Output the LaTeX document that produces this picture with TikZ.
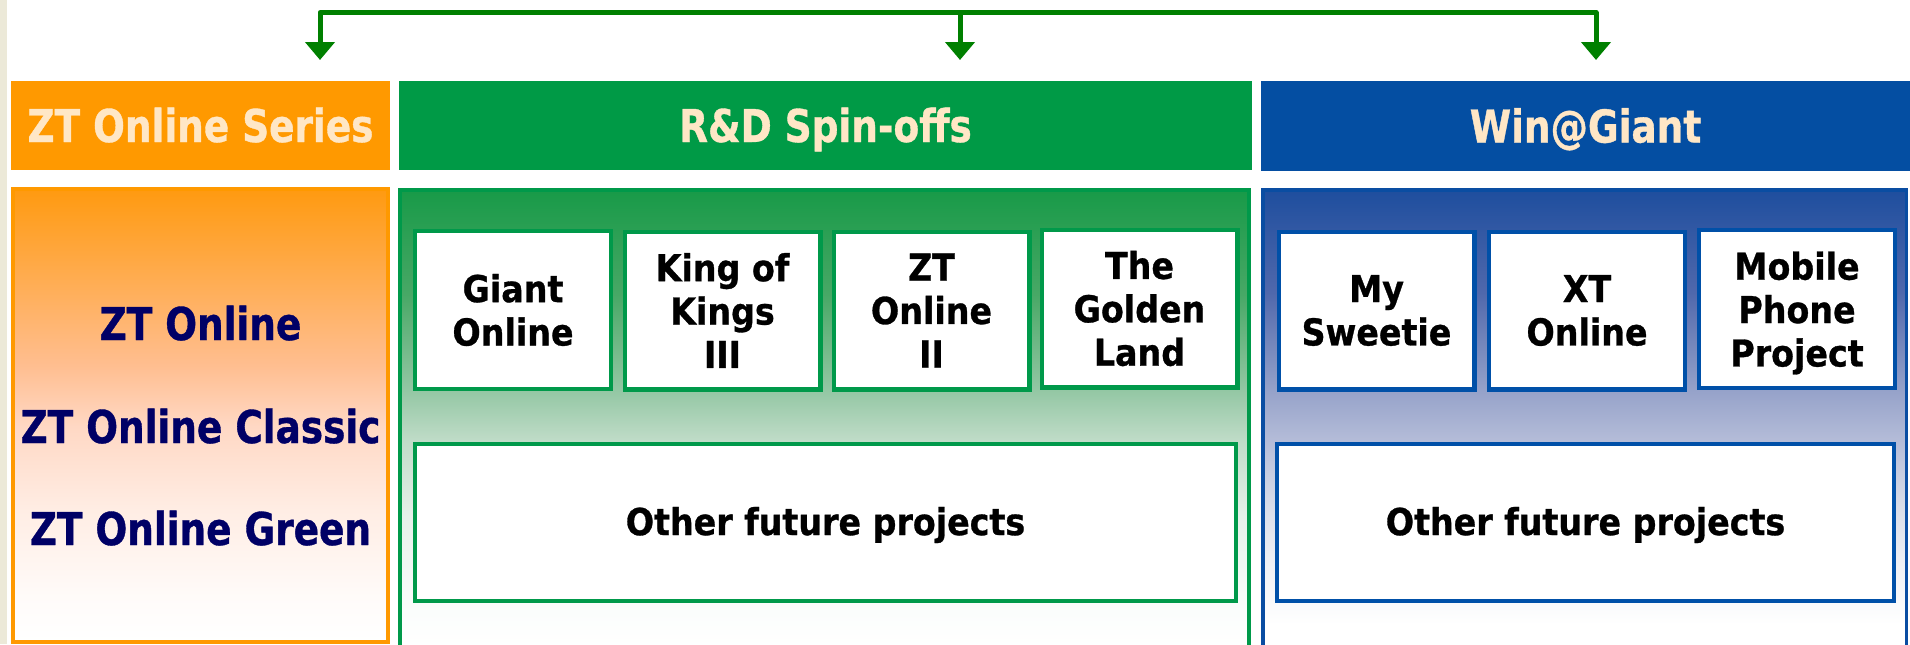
\documentclass[tikz,border=0pt]{standalone}
\usepackage{fontspec}
\setmainfont{DejaVu Sans Condensed}
\newfontfamily\hfont{DejaVu Sans Condensed Bold}[FakeStretch=0.92,FakeBold=0.8]
\newfontfamily\bfont{DejaVu Sans Condensed Bold}[FakeBold=0.8]
\usetikzlibrary{arrows.meta}
\definecolor{orangeH}{HTML}{FF9900}
\definecolor{greenH}{HTML}{009A46}
\definecolor{blueH}{HTML}{044EA2}
\definecolor{cream}{HTML}{FFE7C6}
\definecolor{navy}{HTML}{000066}
\definecolor{greenB}{HTML}{00994A}
\definecolor{blueB}{HTML}{0A4DA2}
\definecolor{blueI}{HTML}{0050A8}
\definecolor{arrowG}{HTML}{008000}
\definecolor{beige}{HTML}{ECE9D8}
% orange gradient
\definecolor{or1}{HTML}{FFFBF9}
\definecolor{or2}{HTML}{FFEDE4}
\definecolor{or3}{HTML}{FFD8C4}
\definecolor{or4}{HTML}{FFBE90}
\definecolor{or5}{HTML}{FF9A10}
% green gradient
\definecolor{gr1}{HTML}{FBFDFC}
\definecolor{gr2}{HTML}{E6F1EA}
\definecolor{gr3}{HTML}{C0DCC8}
\definecolor{gr4}{HTML}{96C8A6}
\definecolor{gr5}{HTML}{48A866}
\definecolor{gr6}{HTML}{189A48}
% blue gradient
\definecolor{bl1}{HTML}{F0F1F5}
\definecolor{bl2}{HTML}{D8DCE8}
\definecolor{bl3}{HTML}{BCC3DC}
\definecolor{bl4}{HTML}{97A3CA}
\definecolor{bl5}{HTML}{5068AC}
\definecolor{bl6}{HTML}{1E4E9E}
\pgfdeclareverticalshading{orsh}{100bp}{color(0bp)=(white); color(25bp)=(white); color(30bp)=(or1); color(39.5bp)=(or2); color(48.8bp)=(or3); color(55.5bp)=(or4); color(75bp)=(or5); color(100bp)=(or5)}
\pgfdeclareverticalshading{grsh}{100bp}{color(0bp)=(white); color(25bp)=(white); color(29bp)=(gr1); color(39.4bp)=(gr2); color(47.6bp)=(gr3); color(52.8bp)=(gr4); color(63.6bp)=(gr5); color(75bp)=(gr6); color(100bp)=(gr6)}
\pgfdeclareverticalshading{blsh}{100bp}{color(0bp)=(white); color(25bp)=(white); color(27.6bp)=(white); color(34.2bp)=(bl1); color(40.7bp)=(bl2); color(46.2bp)=(bl3); color(52.9bp)=(bl4); color(63.8bp)=(bl5); color(75bp)=(bl6); color(100bp)=(bl6)}
\tikzset{
  hdr/.style={draw=none, inner sep=0pt, minimum height=44.5pt, text=cream,
    font=\hfont\fontsize{22.6}{26}\selectfont, text height=16.5pt, text depth=0pt},
  body/.style={inner sep=0pt},
  ibox/.style={fill=white, line width=2.2pt, inner sep=0pt, minimum width=97.8pt,
    minimum height=78.8pt, align=center, font=\bfont\fontsize{18.5}{21.7}\selectfont},
  obox/.style={fill=white, line width=2.2pt, inner sep=0pt, minimum height=78.3pt,
    font=\bfont\fontsize{18.5}{21.7}\selectfont},
  ztitem/.style={anchor=base, inner sep=0pt, text=navy, font=\hfont\fontsize{22.6}{26}\selectfont},
  conn/.style={draw=arrowG, line width=2.5pt, line join=round}
}
\begin{document}
\begin{tikzpicture}[x=0.5pt,y=-0.5pt]
\useasboundingbox (0,0) rectangle (1910,644);
\clip (0,0) rectangle (1910,644);
\fill[white] (0,0) rectangle (1910,644);
\fill[beige] (0,0) rectangle (7,644);

% connectors
\coordinate (hm) at (960,12.5);
\coordinate (hr) at (1596,12.5);
\coordinate (t1) at (320,60);
\coordinate (t2) at (960,60);
\coordinate (t3) at (1596,60);
\draw[conn, {Triangle[width=14.5pt,length=9pt]}-{Triangle[width=14.5pt,length=9pt]}] (t1) |- (hr) -- (t3);
\draw[conn, -{Triangle[width=14.5pt,length=9pt]}] (hm) -- (t2);

% headers
\node[hdr, fill=orangeH, minimum width=189.5pt] (hz) at (200.5,125.5) {ZT Online Series};
\node[hdr, fill=greenH, minimum width=426.5pt] (hr2) at (825.5,125.5) {R\&D Spin-offs};
\node[hdr, fill=blueH, minimum width=324.5pt, minimum height=45pt] (hw) at (1585.5,126) {Win@Giant};

% bodies
\node[body, draw=orangeH, line width=2pt, shading=orsh, minimum width=187.5pt, minimum height=226.5pt] (bz) at (200.5,415.5) {};
\node[body, draw=greenB, line width=2pt, shading=grsh, minimum width=424.5pt, minimum height=229pt] (bg) at (824.5,419) {};
\node[body, draw=blueB, line width=1.75pt, shading=blsh, minimum width=321.75pt, minimum height=229.1pt] (bb) at (1584.5,418.9) {};

% ZT items
\node[ztitem] (z1) at (200.5,340) {ZT Online};
\node[ztitem] (z2) at (200.5,443) {ZT Online Classic};
\node[ztitem] (z3) at (200.5,545) {ZT Online Green};

% green inner boxes
\node[ibox, draw=greenB] (g1) at (513,310) {Giant\\Online};
\node[ibox, draw=greenB] (g2) at (722.5,310.5) {King of\\Kings\\III};
\node[ibox, draw=greenB] (g3) at (931.5,310.5) {ZT\\Online\\II};
\node[ibox, draw=greenB] (g4) at (1139.5,308.5) {\raisebox{0pt}[\height][0pt]{}The\\Golden\\Land};
\node[obox, draw=greenB] (g5) at (825.5,522.5) [minimum width=410.3pt] {};
\node[inner sep=0pt, font=\bfont\fontsize{18.5}{21.7}\selectfont] (g5t) at (825.5,525) {Other future projects};

% blue inner boxes
\node[ibox, draw=blueI] (b1) at (1376.5,310.5) {My\\Sweetie};
\node[ibox, draw=blueI] (b2) at (1587,310.5) {XT\\Online};
\node[ibox, draw=blueI] (b3) at (1797,309) {};
\node[inner sep=0pt, align=center, font=\bfont\fontsize{18.5}{21.7}\selectfont] (b3t) at (1797,313) {Mobile\\Phone\\Project};
\node[obox, draw=blueI, minimum width=308.3pt] (b5) at (1585.5,522.5) {};
\node[inner sep=0pt, font=\bfont\fontsize{18.5}{21.7}\selectfont] (b5t) at (1585.5,525) {Other future projects};
\end{tikzpicture}
\end{document}
